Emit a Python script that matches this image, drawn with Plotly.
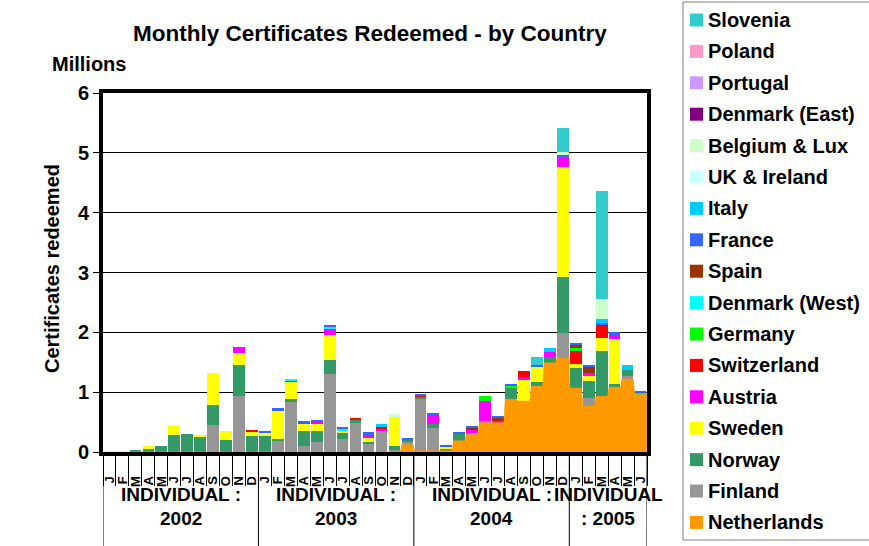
import plotly.graph_objects as go

# ---------------- data ----------------
month_labels = ["J", "F", "M", "A", "M", "J", "J", "A", "S", "O", "N", "D",
                "J", "F", "M", "A", "M", "J", "J", "A", "S", "O", "N", "D",
                "J", "F", "M", "A", "M", "J", "J", "A", "S", "O", "N", "D",
                "J", "F", "M", "A", "M", "J"]
group_line1 = ["INDIVIDUAL :", "INDIVIDUAL :", "INDIVIDUAL :", "INDIVIDUAL"]
group_line2 = ["2002", "2003", "2004", ": 2005"]
group_sizes = [12, 12, 12, 6]

#               2002                                                   2003                                                      2004                                                        2005
netherlands = [0, 0, 0, 0, 0, 0, 0, 0, 0, 0, 0, 0,                   0, 0, 0, 0, 0, 0, 0, 0, 0, 0, 0, 0.12,                    0.02, 0.01, 0.02, 0.19, 0.29, 0.49, 0.49, 0.88, 0.85, 1.10, 1.49, 1.57,   1.07, 0.77, 0.93, 1.08, 1.22, 0.96]
finland     = [0, 0, 0, 0, 0, 0, 0, 0, 0.45, 0, 0.94, 0,             0, 0.20, 0.85, 0.095, 0.17, 1.31, 0.22, 0.48, 0.13, 0.35, 0.03, 0.06,   0.87, 0.39, 0, 0, 0.03, 0.02, 0, 0, 0, 0, 0, 0.42,         0, 0.13, 0, 0, 0.05, 0]
norway      = [0, 0, 0.04, 0.05, 0.095, 0.29, 0.30, 0.26, 0.33, 0.20, 0.51, 0.27,   0.26, 0.02, 0.03, 0.255, 0.18, 0.22, 0.11, 0.07, 0.04, 0, 0.075, 0.03,   0.04, 0.06, 0.04, 0.11, 0, 0, 0, 0.20, 0, 0.07, 0.10, 0.93,   0.34, 0.28, 0.76, 0.05, 0.10, 0]
sweden      = [0, 0, 0, 0.045, 0, 0.14, 0, 0.025, 0.54, 0.15, 0.21, 0.08,   0.06, 0.48, 0.29, 0.13, 0.12, 0.43, 0.03, 0, 0.06, 0, 0.485, 0,   0, 0, 0.025, 0, 0, 0, 0, 0, 0.35, 0.25, 0, 1.85,   0.06, 0.09, 0.21, 0.76, 0, 0]
austria     = [0, 0, 0, 0, 0, 0, 0, 0, 0, 0, 0.09, 0,                0, 0, 0, 0, 0.03, 0.11, 0, 0, 0.07, 0.05, 0, 0,           0, 0.14, 0, 0, 0.04, 0.34, 0.04, 0, 0.06, 0, 0.08, 0.17,   0, 0.05, 0, 0.08, 0, 0]
switzerland = [0, 0, 0, 0, 0, 0, 0, 0, 0, 0, 0, 0.025,               0, 0, 0.03, 0, 0, 0, 0, 0.02, 0, 0.02, 0, 0,             0.015, 0, 0, 0, 0, 0, 0, 0, 0.09, 0, 0, 0,                  0.23, 0, 0.23, 0, 0, 0]
germany     = [0, 0, 0, 0, 0, 0, 0, 0, 0, 0, 0, 0,                   0, 0, 0, 0, 0, 0, 0, 0, 0, 0, 0, 0,                      0, 0, 0, 0, 0, 0.09, 0, 0.03, 0, 0, 0, 0,                   0.03, 0, 0, 0, 0, 0.03]
denmark_w   = [0, 0, 0, 0, 0, 0, 0, 0, 0, 0, 0, 0,                   0, 0, 0.02, 0, 0, 0.025, 0.025, 0, 0, 0, 0, 0,            0, 0, 0, 0, 0, 0, 0, 0, 0, 0, 0, 0,                         0, 0, 0, 0, 0, 0]
spain       = [0, 0, 0, 0, 0, 0, 0, 0, 0, 0, 0, 0,                   0, 0, 0, 0, 0, 0, 0, 0, 0, 0, 0, 0,                      0, 0, 0, 0, 0.04, 0, 0.03, 0, 0, 0, 0, 0,                   0.06, 0.11, 0, 0, 0, 0]
france      = [0, 0, 0, 0, 0, 0, 0, 0, 0, 0, 0, 0,                   0.03, 0.03, 0, 0.03, 0.04, 0.025, 0.025, 0, 0.03, 0, 0, 0.01,   0.02, 0.05, 0.025, 0.035, 0.04, 0, 0.05, 0.03, 0, 0.04, 0, 0.02,   0.04, 0.03, 0.03, 0.03, 0, 0.03]
italy       = [0, 0, 0, 0, 0, 0, 0, 0, 0, 0, 0, 0,                   0, 0, 0, 0, 0, 0, 0, 0, 0, 0.04, 0, 0,                   0, 0, 0, 0, 0, 0, 0, 0, 0, 0, 0.07, 0,                      0, 0, 0.06, 0, 0.09, 0]
uk_ireland  = [0, 0, 0, 0, 0, 0, 0, 0, 0, 0, 0, 0,                   0, 0, 0, 0, 0, 0, 0, 0, 0, 0, 0, 0,                      0, 0, 0, 0, 0, 0, 0, 0, 0, 0, 0, 0,                         0, 0, 0, 0, 0, 0]
belgium_lux = [0, 0, 0, 0, 0, 0, 0, 0, 0, 0, 0, 0,                   0, 0, 0, 0, 0, 0, 0, 0, 0, 0, 0.04, 0,                   0, 0, 0, 0, 0, 0, 0, 0, 0, 0, 0, 0.06,                      0, 0, 0.34, 0, 0, 0]
denmark_e   = [0, 0, 0, 0, 0, 0, 0, 0, 0, 0, 0, 0,                   0, 0, 0, 0, 0, 0, 0, 0, 0, 0, 0, 0,                      0, 0, 0, 0, 0, 0, 0, 0, 0, 0, 0, 0,                         0, 0, 0, 0, 0, 0]
portugal    = [0, 0, 0, 0, 0, 0, 0, 0, 0, 0, 0, 0,                   0, 0, 0, 0, 0, 0, 0, 0, 0, 0, 0, 0,                      0, 0, 0, 0, 0, 0, 0, 0, 0, 0, 0, 0,                         0, 0, 0, 0, 0, 0]
poland      = [0, 0, 0, 0, 0, 0, 0, 0, 0, 0, 0, 0,                   0, 0, 0, 0, 0, 0, 0, 0, 0, 0, 0, 0,                      0, 0, 0, 0, 0, 0, 0, 0, 0, 0, 0, 0,                         0, 0, 0, 0, 0, 0]
slovenia    = [0, 0, 0, 0, 0, 0, 0, 0, 0, 0, 0, 0,                   0, 0, 0, 0, 0, 0, 0, 0, 0, 0, 0, 0,                      0, 0, 0, 0, 0, 0, 0, 0, 0, 0.13, 0, 0.40,                   0, 0, 1.81, 0, 0, 0]

# stacking order bottom -> top
series = [
    ("Netherlands", netherlands, "#FF9900"),
    ("Finland", finland, "#969696"),
    ("Norway", norway, "#339966"),
    ("Sweden", sweden, "#FFFF00"),
    ("Austria", austria, "#FF00FF"),
    ("Switzerland", switzerland, "#FF0000"),
    ("Germany", germany, "#00FF00"),
    ("Denmark (West)", denmark_w, "#00FFFF"),
    ("Spain", spain, "#993300"),
    ("France", france, "#3366FF"),
    ("Italy", italy, "#00CCFF"),
    ("UK & Ireland", uk_ireland, "#CCFFFF"),
    ("Belgium & Lux", belgium_lux, "#CCFFCC"),
    ("Denmark (East)", denmark_e, "#800080"),
    ("Portugal", portugal, "#CC99FF"),
    ("Poland", poland, "#FF99CC"),
    ("Slovenia", slovenia, "#33CCCC"),
]

FONT = "Liberation Sans, Arial, sans-serif"
W, H = 869, 546
ML, MR, MT, MB = 103, 222, 93, 94
PW, PH = W - ML - MR, H - MT - MB
BARGAP = 0.1
n = len(month_labels)
xpos = list(range(n))


def px_x(p):  # pixel -> paper x
    return (p - ML) / PW


def px_y(p):  # pixel -> paper y
    return (H - MB - p) / PH


def bold(size):
    return dict(size=size, family=FONT, color="black", weight="bold")


fig = go.Figure()
for name, vals, col in series:
    fig.add_trace(go.Bar(x=xpos, y=vals, name=name, showlegend=False,
                         marker=dict(color=col, line=dict(width=0))))

# Netherlands drawn as an area (filled between bars)
half = (1 - BARGAP) / 2
ax, ay = [], []
for i, v in enumerate(netherlands):
    ax += [i - half, i + half]
    ay += [v, v]
ax.append(n - 0.5)
ay.append(netherlands[-1])
fig.add_trace(go.Scatter(x=ax, y=ay, mode="lines", fill="tozeroy",
                         fillcolor="#FF9900", line=dict(color="#FF9900", width=0.5),
                         showlegend=False, hoverinfo="skip"))

shapes = []
annotations = []

# group separators and labels
start = 0
bounds = [-0.5]
for k, size in enumerate(group_sizes):
    center = start + (size - 1) / 2
    annotations.append(dict(x=center, y=px_y(507), xref="x", yref="paper", text=group_line1[k],
                            showarrow=False, font=bold(19)))
    annotations.append(dict(x=center, y=px_y(531), xref="x", yref="paper", text=group_line2[k],
                            showarrow=False, font=bold(19)))
    start += size
    bounds.append(start - 0.5)
for b in bounds:
    shapes.append(dict(type="line", xref="x", yref="paper", x0=b, x1=b, y0=0, y1=px_y(H),
                       line=dict(color="black", width=1)))

# titles
annotations.append(dict(x=px_x(370), y=px_y(33), xref="paper", yref="paper",
                        text="Monthly Certificates Redeemed - by Country",
                        showarrow=False, xanchor="center", yanchor="middle", font=bold(22.5)))
annotations.append(dict(x=px_x(50), y=px_y(64), xref="paper", yref="paper", text="Millions",
                        showarrow=False, xanchor="left", yanchor="middle", font=bold(20)))
annotations.append(dict(x=px_x(52), y=px_y(269), xref="paper", yref="paper",
                        text="Certificates redeemed", showarrow=False, textangle=-90,
                        xanchor="center", yanchor="middle", font=bold(20)))

# legend (top of stack listed first)
shapes.append(dict(type="rect", xref="paper", yref="paper",
                   x0=px_x(683), x1=px_x(W + 5), y0=px_y(2), y1=px_y(540),
                   line=dict(color="#808080", width=1), fillcolor="white", layer="below"))
for k, (name, vals, col) in enumerate(reversed(series)):
    cy = 20 + 31.4 * k
    shapes.append(dict(type="rect", xref="paper", yref="paper",
                       x0=px_x(690), x1=px_x(703), y0=px_y(cy - 6.5), y1=px_y(cy + 6.5),
                       line=dict(width=0), fillcolor=col))
    annotations.append(dict(x=px_x(706), y=px_y(cy), xref="paper", yref="paper", text=name,
                            showarrow=False, xanchor="left", yanchor="middle", font=bold(20)))

fig.update_layout(
    width=W, height=H,
    margin=dict(l=ML, r=MR, t=MT, b=MB, autoexpand=False),
    paper_bgcolor="white", plot_bgcolor="white",
    barmode="stack", bargap=BARGAP,
    font=dict(family=FONT, color="black", weight="bold"),
    showlegend=False,
    shapes=shapes,
    annotations=annotations,
)

fig.update_xaxes(
    range=[-0.5, n - 0.5], tickmode="array", tickvals=xpos, ticktext=month_labels,
    tickangle=-90, ticks="outside", ticklen=15, tickcolor="rgba(0,0,0,0)",
    tickfont=bold(13), automargin=False,
    showline=True, linecolor="black", linewidth=4, mirror=True, showgrid=False, zeroline=False,
    minor=dict(tickmode="array", tickvals=[i - 0.5 for i in range(n + 1)],
               ticks="outside", ticklen=30, tickcolor="black", tickwidth=1),
)
fig.update_yaxes(
    range=[0, 6], dtick=1, tick0=0, ticks="outside", ticklen=6, tickcolor="black",
    tickfont=bold(20), automargin=False,
    showline=True, linecolor="black", linewidth=4, mirror=True,
    showgrid=True, gridcolor="black", gridwidth=1, zeroline=False,
)

fig.write_html("out.html", config={"displayModeBar": False},
               post_script="document.body.style.margin='0px';document.body.style.overflow='hidden';")
